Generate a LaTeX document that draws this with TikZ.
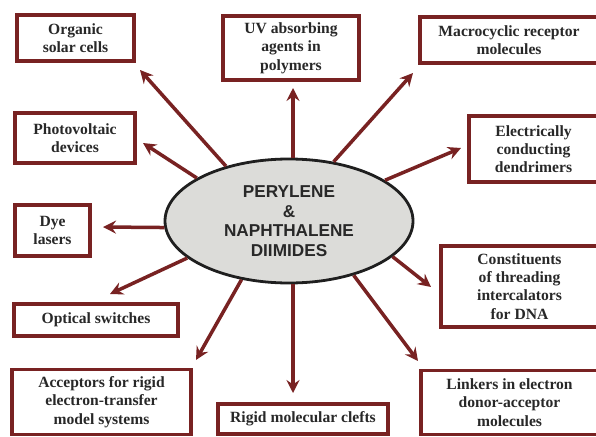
\documentclass[tikz,border=0pt]{standalone}
\usepackage{fontspec}
\setmainfont{Liberation Serif}
\newfontfamily\arialfont{Liberation Sans}
\usetikzlibrary{shapes.geometric,arrows.meta}
\definecolor{brd}{RGB}{120,34,34}
\definecolor{ellfill}{RGB}{220,220,217}
\definecolor{txt}{RGB}{40,40,40}
\tikzset{
  appbox/.style={draw=brd, line width=3.8pt, fill=white, inner sep=0pt, align=center,
    text=txt, font=\fontsize{15.6}{18.3}\selectfont\bfseries},
  arr/.style={draw=brd, line width=3.5pt, -{Stealth[length=13pt,width=13pt,inset=4.5pt]}},
  core/.style={ellipse, draw=black!88, line width=2.8pt, fill=ellfill, inner sep=0pt,
    minimum width=248pt, minimum height=124pt, align=center, text=txt,
    font=\arialfont\fontsize{17.2}{19.5}\selectfont\bfseries}
}
\begin{document}
\begin{tikzpicture}[x=1pt,y=-1pt]
\useasboundingbox (0,0) rectangle (596,436);
\clip (0,0) rectangle (596,436);
\fill[white] (0,0) rectangle (596,436);
% boxes: centre, width, height (outer minus line width)
\node[appbox, minimum width=117pt, minimum height=46pt] (org) at (75.5,38) {Organic\\solar cells};
\node[appbox, minimum width=136pt, minimum height=64pt] (uv) at (291,48) {UV absorbing\\agents in\\polymers};
\node[appbox, minimum width=178pt, minimum height=46pt] (mac) at (509,40) {Macrocyclic receptor\\molecules};
\node[appbox, minimum width=129pt, minimum height=66pt] (ele) at (533.5,149) {Electrically\\conducting\\dendrimers};
\node[appbox, minimum width=120pt, minimum height=50pt] (pho) at (75,138) {Photovoltaic\\devices};
\node[appbox, minimum width=75pt, minimum height=51pt] (dye) at (52.5,230.5) {Dye\\lasers};
\node[appbox, minimum width=164pt, minimum height=32pt] (opt) at (96,320) {Optical switches};
\node[appbox, minimum width=179pt, minimum height=65pt] (acc) at (101.5,402) {Acceptors for rigid\\electron-transfer\\model systems};
\node[appbox, minimum width=170pt, minimum height=30pt] (rig) at (303,419) {Rigid molecular clefts};
\node[appbox, minimum width=157pt, minimum height=81pt] (con) at (519.5,286.5) {Constituents\\of threading\\intercalators\\for DNA};
\node[appbox, minimum width=177pt, minimum height=64pt] (lin) at (509.5,402.5) {Linkers in electron\\donor-acceptor\\molecules};
% centre
\node[core] (core) at (289,221) {PERYLENE\\\&\\NAPHTHALENE\\DIIMIDES};
% arrow tips
\coordinate (torg) at (140,70);
\coordinate (tuv) at (293,88);
\coordinate (tmac) at (413,73);
\coordinate (tele) at (461,148);
\coordinate (tpho) at (143,143);
\coordinate (tdye) at (103,227);
\coordinate (topt) at (110,294);
\coordinate (tacc) at (196,360);
\coordinate (trig) at (293,393);
\coordinate (tcon) at (431,287);
\coordinate (tlin) at (418,361);
% arrows
\draw[arr] (core.139) -- (torg);
\draw[arr] (core.north -| tuv) -- (tuv);
\draw[arr] (core.53) -- (tmac);
\draw[arr] (core.23) -- (tele);
\draw[arr] (core.155) -- (tpho);
\draw[arr] (core.183) -- (tdye);
\draw[arr] (core.200) -- (topt);
\draw[arr] (core.231) -- (tacc);
\draw[arr] (core.south -| trig) -- (trig);
\draw[arr] (core.341) -- (tcon);
\draw[arr] (core.320) -- (tlin);
\end{tikzpicture}
\end{document}
